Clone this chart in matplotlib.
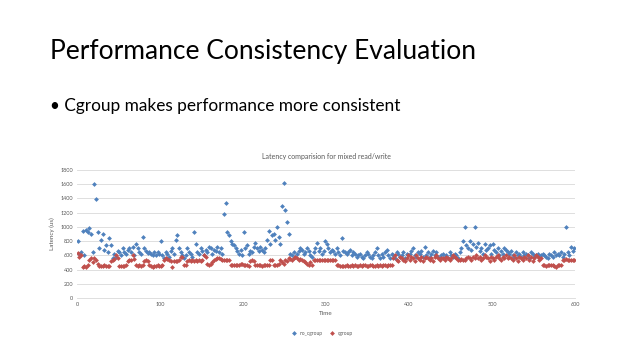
import numpy as np
import matplotlib.pyplot as plt

# time axis, one sample every 2 s
time = np.arange(1, 600, 2)

no_cgroup = [
    800, 620, 650, 940, 600, 960, 930, 980, 900, 640,
    1600, 1390, 930, 700, 820, 900, 680, 750, 650, 850,
    740, 560, 620, 580, 660, 640, 600, 700, 650, 620,
    680, 700, 640, 720, 600, 760, 700, 650, 620, 860,
    700, 660, 630, 640, 620, 610, 650, 600, 640, 620,
    800, 600, 560, 640, 620, 580, 660, 700, 620, 820,
    880, 700, 650, 600, 560, 600, 700, 650, 620, 580,
    930, 760, 640, 620, 700, 660, 600, 680, 640, 720,
    700, 620, 680, 660, 720, 650, 700, 620, 1180, 1340,
    930, 880, 800, 760, 740, 700, 660, 620, 680, 600,
    930, 700, 740, 620, 660, 640, 720, 780, 700, 660,
    720, 680, 640, 700, 820, 940, 760, 880, 900, 820,
    1000, 860, 760, 1300, 1620, 1240, 1070, 900, 620, 600,
    650, 580, 620, 660, 700, 680, 620, 640, 700, 660,
    600, 580, 640, 700, 780, 660, 700, 620, 660, 800,
    760, 700, 640, 680, 660, 620, 700, 640, 600, 840,
    660, 640, 620, 640, 680, 600, 640, 620, 580, 600,
    620, 580, 560, 600, 640, 620, 580, 560, 600, 640,
    700, 600, 560, 620, 580, 640, 680, 600, 560, 620,
    600, 560, 640, 620, 580, 600, 640, 560, 620, 600,
    620, 660, 700, 600, 580, 640, 620, 660, 580, 720,
    600, 640, 580, 620, 660, 600, 640, 580, 560, 600,
    620, 580, 600, 560, 640, 600, 580, 620, 600, 560,
    640, 700, 800, 1000, 740, 700, 800, 680, 760, 1000,
    720, 780, 660, 700, 620, 760, 680, 700, 740, 620,
    760, 680, 640, 700, 600, 660, 620, 700, 680, 640,
    620, 660, 600, 580, 640, 600, 620, 580, 640, 600,
    620, 600, 560, 640, 620, 580, 600, 620, 580, 600,
    620, 600, 580, 560, 620, 600, 580, 640, 600, 620,
    600, 640, 580, 620, 1000, 640, 600, 720, 660, 700,
]

cgroup = [
    630, 580, 600, 440, 450, 430, 470, 540, 560, 500,
    560, 540, 480, 450, 450, 450, 460, 450, 450, 450,
    520, 540, 550, 600, 560, 450, 450, 450, 450, 460,
    520, 540, 530, 600, 550, 470, 450, 460, 450, 470,
    520, 530, 520, 460, 450, 440, 450, 450, 460, 450,
    450, 460, 540, 560, 550, 540, 520, 440, 520, 520,
    520, 530, 580, 570, 470, 460, 520, 530, 520, 530,
    520, 530, 520, 530, 520, 540, 600, 580, 480, 470,
    480, 500, 540, 550, 560, 560, 550, 540, 540, 540,
    540, 530, 470, 460, 460, 470, 460, 470, 480, 480,
    470, 460, 460, 450, 520, 530, 520, 460, 460, 460,
    460, 450, 460, 460, 460, 470, 530, 530, 470, 460,
    460, 480, 540, 500, 480, 540, 520, 560, 550, 540,
    560, 570, 560, 540, 550, 540, 520, 500, 480, 460,
    500, 470, 530, 530, 540, 540, 530, 530, 540, 540,
    540, 530, 540, 540, 540, 530, 460, 460, 450, 450,
    450, 450, 460, 450, 450, 460, 450, 460, 450, 450,
    460, 450, 470, 460, 450, 450, 460, 470, 450, 450,
    460, 450, 460, 450, 470, 460, 450, 460, 470, 460,
    560, 600, 540, 520, 580, 560, 540, 520, 560, 600,
    540, 580, 560, 520, 600, 560, 540, 580, 520, 560,
    580, 560, 540, 560, 520, 580, 600, 560, 540, 560,
    560, 540, 580, 560, 540, 560, 600, 580, 560, 540,
    540, 550, 540, 540, 560, 580, 560, 540, 580, 560,
    600, 560, 580, 540, 560, 600, 580, 560, 520, 580,
    560, 540, 580, 600, 560, 540, 580, 560, 600, 560,
    580, 560, 540, 600, 560, 520, 580, 560, 540, 580,
    560, 600, 540, 580, 520, 560, 600, 580, 540, 560,
    460, 460, 450, 460, 460, 470, 460, 450, 440, 460,
    460, 470, 540, 540, 550, 540, 540, 540, 530, 540,
]

yticks = list(range(0, 1801, 200))
xticks = list(range(0, 601, 100))

plt.rcParams['font.family'] = ['Lato', 'DejaVu Sans']
fig = plt.figure(figsize=(6.4, 3.6), dpi=100)

# slide text
fig.text(50/640, 1-52/360, "Performance Consistency Evaluation", fontsize=19,
         va='center', ha='left', color='black')
fig.text(50/640, 1-106/360, "\u2022 Cgroup makes performance more consistent",
         fontsize=12.4, va='center', ha='left', color='black')

ax = fig.add_axes([77/640, 1-298/360, 498/640, 128/360])
ax.scatter(time, no_cgroup, marker='D', s=6, color='#4F81BD', linewidths=0,
           label='no_cgroup', zorder=3)
ax.scatter(time, cgroup, marker='D', s=6, color='#C0504D', linewidths=0,
           label='cgroup', zorder=3)

ax.set_xlim(0, 600)
ax.set_ylim(0, 1800)
ax.set_xticks(xticks)
ax.set_yticks(yticks)
ax.tick_params(length=0, labelsize=4, colors='#595959', pad=3)
ax.grid(axis='y', color='#D9D9D9', linewidth=0.6)
ax.set_axisbelow(True)
for s in ['top', 'right', 'left']:
    ax.spines[s].set_visible(False)
ax.spines['bottom'].set_color('#D9D9D9')
ax.spines['bottom'].set_linewidth(0.6)

ax.set_title("Latency comparision for mixed read/write", fontsize=5,
             color='#595959', pad=8)
ax.set_xlabel("Time", fontsize=4.5, color='#595959', labelpad=3)
ax.set_ylabel("Latency (us)", fontsize=4.5, color='#595959', labelpad=4)

ax.legend(loc='upper center', bbox_to_anchor=(0.49, -0.22), ncol=2,
          frameon=False, fontsize=3.5, markerscale=1.0, handletextpad=0.1,
          columnspacing=1.0, labelcolor='#595959')

fig.savefig('out.png', dpi=100)
